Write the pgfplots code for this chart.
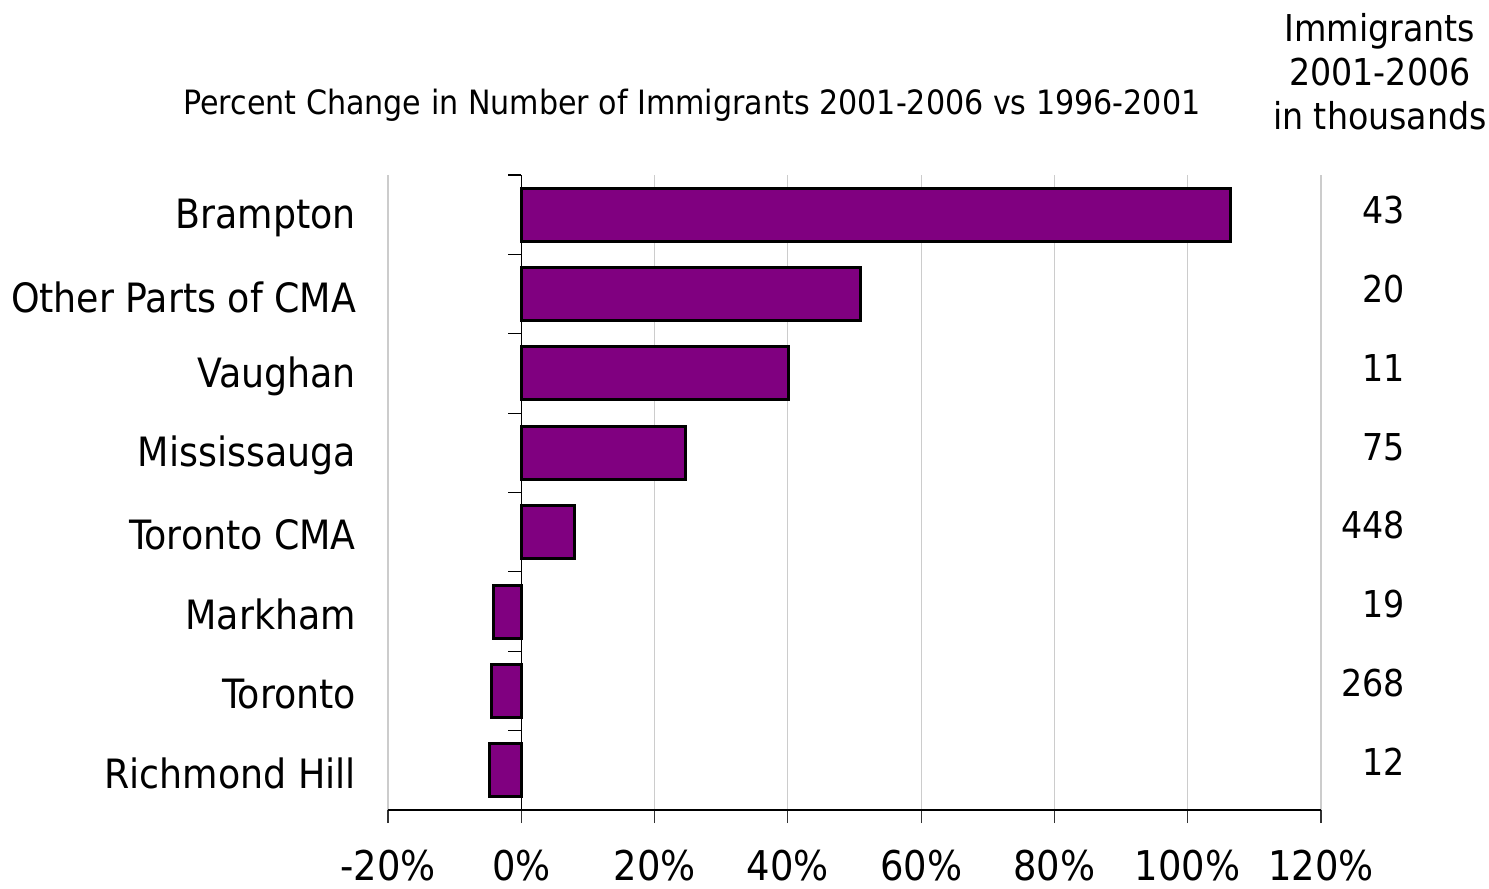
\documentclass[border=0pt]{standalone}
\usepackage{pgfplots}
\pgfplotsset{compat=1.18}
\usepackage{fontspec}
\setmainfont{DejaVu Sans Condensed}
\definecolor{barpurple}{RGB}{128,0,128}
\begin{document}
\begin{tikzpicture}
\useasboundingbox (-194pt,-39.5pt) rectangle (550.5pt,405pt);
\begin{axis}[
  at={(0,0)}, anchor=south west,
  scale only axis, width=466.5pt, height=317.5pt,
  xmin=-20, xmax=120, ymin=-0.5, ymax=7.5,
  xtick={-20,0,20,40,60,80,100,120},
  xticklabels={-20\%,0\%,20\%,40\%,60\%,80\%,100\%,120\%},
  ytick={0,...,7},
  yticklabels={Richmond Hill,Toronto,Markham,Toronto CMA,Mississauga,Vaughan,Other Parts of CMA,Brampton},
  axis x line*=bottom, axis y line*=left,
  axis line style={-},
  y axis line style={draw=none},
  x axis line style={line width=0.6pt, black},
  ytick style={draw=none},
  xtick style={black!80, line width=0.6pt},
  tick align=outside, major tick length=6.5pt,
  xmajorgrids, grid style={black!20, line width=0.6pt},
  yticklabel style={font=\fontsize{20.2}{24}\selectfont, xshift=-6pt, yshift=-1.5pt},
  xticklabel style={font=\fontsize{20.5}{24}\selectfont, yshift=-10pt},
  xbar, bar width=26.5pt,
  clip=false,
]
\addplot[fill=barpurple, draw=black, line width=1.5pt]
  coordinates {(-4.8,0) (-4.5,1) (-4.2,2) (8.0,3) (24.6,4) (40.1,5) (50.9,6) (106.4,7)};
\draw[line width=0.6pt] (axis cs:0,-0.5) -- (axis cs:0,7.5);
\pgfplotsinvokeforeach{-0.5,0.5,1.5,2.5,3.5,4.5,5.5,6.5,7.5}{
  \draw[line width=0.6pt] (axis cs:0,#1) -- ([xshift=-6.5pt]axis cs:0,#1);
}
\end{axis}
\begin{scope}[every node/.style={font=\fontsize{18.5}{22}\selectfont, inner sep=0pt}]
\node[anchor=east] at (508.5pt,300pt) {43};
\node[anchor=east] at (508.5pt,260.5pt) {20};
\node[anchor=east] at (508.5pt,221pt) {11};
\node[anchor=east] at (508.5pt,181.5pt) {75};
\node[anchor=east] at (508.5pt,142.5pt) {448};
\node[anchor=east] at (508.5pt,103pt) {19};
\node[anchor=east] at (508.5pt,63.5pt) {268};
\node[anchor=east] at (508.5pt,24pt) {12};
\node[align=center] at (496pt,369pt) {Immigrants\\2001-2006\\in thousands};
\end{scope}
\node[font=\fontsize{16.75}{20}\selectfont, inner sep=0pt] at (152pt,352.5pt) {Percent Change in Number of Immigrants 2001-2006 vs 1996-2001};
\end{tikzpicture}
\end{document}
